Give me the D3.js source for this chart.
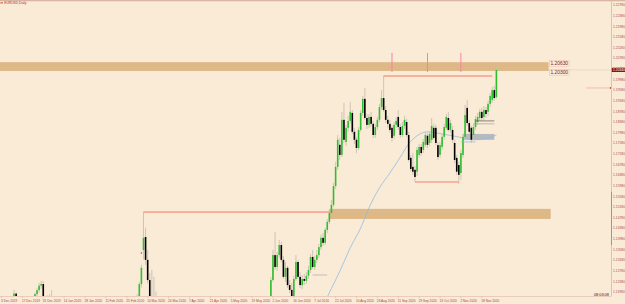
<!DOCTYPE html>
<html><head><meta charset="utf-8">
<script src="https://cdn.jsdelivr.net/npm/d3@7"></script>
<style>html,body{margin:0;padding:0;background:#faebd7;overflow:hidden}svg{display:block}</style>
</head><body><svg id="c" width="625" height="304"></svg>
<script>
// ---- DATA (EURUSD, Daily) ----
const opens = [
1.1078,1.1081,1.1078,1.1105,1.1060,1.1092,1.1130,1.1192,1.1150,1.1145,
1.1150,1.1112,1.1122,1.1080,1.1088,1.1090,1.1150,1.1190,1.1205,1.1222,
1.1228,1.1175,1.1160,1.1150,1.1180,1.1165,1.1130,1.1105,1.1120,1.1105,
1.1125,1.1130,1.1135,1.1105,1.1095,1.1085,1.1055,1.1025,1.1020,1.1018,
1.1005,1.1020,1.1030,1.1090,1.1060,1.1020,1.0995,1.0980,1.0975,1.0960,
1.0940,1.0918,1.0895,1.0875,1.0845,1.0840,1.0805,1.0790,1.0845,1.0850,
1.0880,1.0880,1.0990,1.1000,1.1095,1.1150,1.1183,1.1228,1.1356,1.1405,
1.1319,1.1243,1.1168,1.1110,1.1150,1.1000,1.0990,1.0900,1.0790,1.0705,
1.0720,1.0790,1.0880,1.0965,1.1140,1.1030,1.0965,1.0960,1.0855,1.0800,
1.0890,1.0890,1.0925,1.0895,1.0935,1.0915,1.0875,1.0835,1.0855,1.0860,
1.0825,1.0820,1.0870,1.0830,1.0870,1.0955,1.0980,1.0910,1.0840,1.0790,
1.0825,1.0805,1.0845,1.0815,1.0795,1.0805,1.0820,1.0810,1.0915,1.0975,
1.0950,1.0900,1.0895,1.0980,1.1000,1.1075,1.1135,1.1100,1.1120,1.1168,
1.1243,1.1337,1.1292,1.1337,1.1375,1.1319,1.1255,1.1289,1.1224,1.1206,
1.1179,1.1247,1.1311,1.1255,1.1224,1.1247,1.1240,1.1259,1.1281,1.1330,
1.1292,1.1319,1.1337,1.1367,1.1402,1.1383,1.1432,1.1462,1.1495,1.1526,
1.1597,1.1669,1.1752,1.1714,1.1846,1.1763,1.1816,1.1842,1.1872,1.1801,
1.1771,1.1740,1.1808,1.1872,1.1925,1.1853,1.1827,1.1857,1.1831,1.1789,
1.1819,1.1846,1.1894,1.1928,1.1883,1.1846,1.1831,1.1816,1.1786,1.1827,
1.1857,1.1819,1.1789,1.1823,1.1838,1.1789,1.1703,1.1669,1.1658,1.1651,
1.1714,1.1744,1.1733,1.1752,1.1786,1.1759,1.1771,1.1816,1.1816,1.1751,
1.1714,1.1744,1.1782,1.1816,1.1853,1.1808,1.1808,1.1759,1.1703,1.1676,
1.1646,1.1714,1.1782,1.1891,1.1834,1.1816,1.1789,1.1819,1.1838,1.1853,
1.1876,1.1857,1.1883,1.1876,1.1906,1.1921,1.1958,1.1932];
const highs = [
1.1092,1.1094,1.1110,1.1112,1.1095,1.1145,1.1206,1.1198,1.1165,1.1175,
1.1152,1.1130,1.1123,1.1093,1.1095,1.1155,1.1195,1.1212,1.1232,1.1240,
1.1239,1.1180,1.1185,1.1190,1.1205,1.1170,1.1140,1.1125,1.1135,1.1130,
1.1180,1.1150,1.1145,1.1110,1.1100,1.1095,1.1060,1.1035,1.1030,1.1030,
1.1025,1.1035,1.1095,1.1095,1.1063,1.1025,1.1000,1.0985,1.0990,1.0965,
1.0950,1.0925,1.0900,1.0880,1.0870,1.0850,1.0815,1.0850,1.0865,1.0885,
1.0890,1.0995,1.1025,1.1100,1.1140,1.1190,1.1236,1.1300,1.1499,1.1440,
1.1357,1.1270,1.1281,1.1255,1.1200,1.1055,1.1000,1.0915,1.0800,1.0750,
1.0890,1.0880,1.1000,1.1147,1.1165,1.1050,1.0990,1.0965,1.0865,1.0895,
1.0925,1.0955,1.0935,1.0945,1.0955,1.0930,1.0880,1.0880,1.0880,1.0900,
1.0850,1.0880,1.0890,1.0880,1.0975,1.1015,1.0985,1.0925,1.0845,1.0830,
1.0875,1.0850,1.0875,1.0830,1.0825,1.0830,1.0830,1.0925,1.0975,1.0995,
1.0955,1.0920,1.0990,1.1010,1.1090,1.1145,1.1150,1.1150,1.1180,1.1254,
1.1356,1.1424,1.1349,1.1394,1.1387,1.1334,1.1311,1.1296,1.1243,1.1232,
1.1259,1.1337,1.1319,1.1274,1.1262,1.1266,1.1274,1.1296,1.1341,1.1356,
1.1334,1.1356,1.1379,1.1413,1.1420,1.1439,1.1473,1.1507,1.1545,1.1609,
1.1688,1.1789,1.1778,1.1876,1.1910,1.1827,1.1861,1.1913,1.1883,1.1816,
1.1782,1.1819,1.1883,1.1936,1.1966,1.1868,1.1868,1.1876,1.1842,1.1831,
1.1857,1.1906,1.1958,1.2011,1.1898,1.1861,1.1846,1.1827,1.1838,1.1857,
1.1883,1.1831,1.1838,1.1861,1.1850,1.1801,1.1714,1.1721,1.1673,1.1744,
1.1755,1.1755,1.1774,1.1801,1.1797,1.1804,1.1853,1.1831,1.1827,1.1763,
1.1763,1.1793,1.1831,1.1868,1.1876,1.1846,1.1823,1.1771,1.1714,1.1688,
1.1733,1.1793,1.1902,1.1921,1.1846,1.1823,1.1831,1.1861,1.1872,1.1887,
1.1891,1.1898,1.1895,1.1917,1.1947,1.1970,1.1974,1.2045];
const lows = [
1.1067,1.1066,1.1075,1.1040,1.1057,1.1070,1.1120,1.1140,1.1118,1.1140,
1.1110,1.1105,1.1067,1.1070,1.1076,1.1085,1.1145,1.1180,1.1195,1.1210,
1.1165,1.1125,1.1135,1.1140,1.1160,1.1120,1.1095,1.1085,1.1100,1.1090,
1.1115,1.1120,1.1100,1.1085,1.1080,1.1050,1.1020,1.1005,1.1010,1.1000,
1.0995,1.1005,1.1025,1.1045,1.1015,1.0990,1.0965,1.0950,1.0950,1.0925,
1.0915,1.0890,1.0860,1.0840,1.0830,1.0800,1.0778,1.0780,1.0820,1.0835,
1.0850,1.0865,1.0960,1.0990,1.1060,1.1140,1.1170,1.1215,1.1320,1.1300,
1.1230,1.1100,1.1050,1.1050,1.0995,1.0920,1.0870,1.0760,1.0690,1.0636,
1.0700,1.0770,1.0860,1.0950,1.1010,1.0960,1.0900,1.0830,1.0780,1.0790,
1.0830,1.0860,1.0880,1.0875,1.0905,1.0860,1.0810,1.0830,1.0835,1.0820,
1.0790,1.0810,1.0820,1.0810,1.0860,1.0930,1.0900,1.0830,1.0780,1.0770,
1.0800,1.0795,1.0810,1.0775,1.0785,1.0775,1.0785,1.0795,1.0900,1.0945,
1.0885,1.0870,1.0875,1.0960,1.0990,1.1050,1.1070,1.1085,1.1105,1.1160,
1.1236,1.1281,1.1277,1.1326,1.1311,1.1247,1.1236,1.1213,1.1194,1.1164,
1.1172,1.1240,1.1247,1.1213,1.1209,1.1224,1.1228,1.1247,1.1270,1.1285,
1.1281,1.1307,1.1326,1.1356,1.1371,1.1375,1.1420,1.1454,1.1484,1.1518,
1.1586,1.1658,1.1695,1.1706,1.1759,1.1748,1.1801,1.1831,1.1793,1.1755,
1.1721,1.1733,1.1801,1.1861,1.1846,1.1812,1.1815,1.1819,1.1778,1.1778,
1.1808,1.1838,1.1883,1.1876,1.1834,1.1816,1.1797,1.1763,1.1774,1.1816,
1.1808,1.1778,1.1782,1.1812,1.1782,1.1688,1.1651,1.1639,1.1613,1.1635,
1.1703,1.1710,1.1721,1.1744,1.1740,1.1748,1.1759,1.1771,1.1751,1.1695,
1.1703,1.1733,1.1771,1.1808,1.1801,1.1797,1.1759,1.1684,1.1639,1.1605,
1.1621,1.1703,1.1771,1.1823,1.1789,1.1759,1.1778,1.1808,1.1827,1.1842,
1.1842,1.1846,1.1853,1.1861,1.1894,1.1910,1.1917,1.1925];
const closes = [
1.1081,1.1078,1.1105,1.1060,1.1092,1.1130,1.1192,1.1150,1.1145,1.1150,
1.1112,1.1122,1.1078,1.1088,1.1090,1.1150,1.1190,1.1205,1.1222,1.1228,
1.1175,1.1160,1.1150,1.1180,1.1165,1.1130,1.1105,1.1120,1.1105,1.1125,
1.1130,1.1135,1.1105,1.1095,1.1085,1.1055,1.1025,1.1020,1.1018,1.1005,
1.1020,1.1030,1.1090,1.1060,1.1020,1.0995,1.0980,1.0975,1.0960,1.0940,
1.0918,1.0895,1.0875,1.0845,1.0840,1.0805,1.0790,1.0845,1.0850,1.0880,
1.0880,1.0990,1.1000,1.1095,1.1135,1.1183,1.1228,1.1289,1.1402,1.1319,
1.1243,1.1168,1.1110,1.1150,1.1000,1.0990,1.0900,1.0790,1.0705,1.0720,
1.0790,1.0880,1.0965,1.1140,1.1030,1.0965,1.0960,1.0855,1.0800,1.0890,
1.0890,1.0925,1.0895,1.0935,1.0915,1.0875,1.0835,1.0855,1.0860,1.0825,
1.0820,1.0870,1.0830,1.0870,1.0955,1.0980,1.0910,1.0840,1.0790,1.0825,
1.0805,1.0845,1.0815,1.0795,1.0805,1.0820,1.0810,1.0915,1.0975,1.0950,
1.0900,1.0895,1.0980,1.1000,1.1075,1.1135,1.1100,1.1120,1.1170,1.1243,
1.1337,1.1292,1.1337,1.1375,1.1319,1.1255,1.1289,1.1224,1.1206,1.1179,
1.1247,1.1311,1.1255,1.1224,1.1247,1.1240,1.1259,1.1281,1.1330,1.1292,
1.1319,1.1337,1.1367,1.1402,1.1383,1.1432,1.1462,1.1495,1.1526,1.1597,
1.1669,1.1771,1.1714,1.1846,1.1771,1.1816,1.1842,1.1876,1.1801,1.1771,
1.1740,1.1808,1.1872,1.1925,1.1853,1.1827,1.1857,1.1831,1.1789,1.1819,
1.1846,1.1894,1.1928,1.1883,1.1846,1.1831,1.1808,1.1778,1.1827,1.1842,
1.1819,1.1789,1.1823,1.1846,1.1789,1.1695,1.1661,1.1651,1.1631,1.1733,
1.1744,1.1721,1.1763,1.1789,1.1752,1.1793,1.1823,1.1778,1.1759,1.1706,
1.1751,1.1782,1.1819,1.1857,1.1808,1.1834,1.1771,1.1695,1.1651,1.1639,
1.1721,1.1782,1.1864,1.1834,1.1801,1.1771,1.1819,1.1849,1.1857,1.1876,
1.1853,1.1883,1.1868,1.1906,1.1936,1.1958,1.1928,1.2034];

// date labels, one every 10 bars
const dateLabels = ["3 Dec 2019","17 Dec 2019","31 Dec 2019","14 Jan 2020","28 Jan 2020","11 Feb 2020",
"25 Feb 2020","10 Mar 2020","24 Mar 2020","7 Apr 2020","21 Apr 2020","5 May 2020","19 May 2020",
"2 Jun 2020","16 Jun 2020","7 Jul 2020","22 Jul 2020","10 Aug 2020","26 Aug 2020","11 Sep 2020",
"29 Sep 2020","13 Oct 2020","2 Nov 2020","18 Nov 2020"];
const priceTicks = [1.2278,1.2238,1.2198,1.2158,1.2118,1.2078,1.2038,1.1998,1.1958,1.1918,1.1878,
1.1838,1.1798,1.1758,1.1718,1.1678,1.1638,1.1598,1.1558,1.1518,1.1478,1.1438,1.1398,1.1358,
1.1318,1.1278,1.1238,1.1198];

// moving average
const maIdx = [146,151,156,160,164,167,172,176,181,186,191,195,199,204,208,211,216,221,226,231,235,237];
const maVal = [1.0990,1.1085,1.1179,1.1243,1.1311,1.1364,1.1439,1.1515,1.1590,1.1646,1.1706,1.1756,
1.1786,1.1801,1.1797,1.1793,1.1786,1.1778,1.1771,1.1774,1.1782,1.1789];

// zones (rectangles)
const zoneTop = [1.2063, 1.1511];
const zoneBottom = [1.2030, 1.1473];
const zoneFrom = [-1, 157];
const zoneTo = [262, 263];
const zoneLabels = ["1.20630", "1.20300"];

// horizontal levels
const levelPrice = [1.1499, 1.2011, 1.1612];
const levelFrom = [68, 183, 198];
const levelTo = [157, 235, 219];

// short marks
const vMarkIdx = [187, 204, 220];
const vMarkTop = 1.2098, vMarkBottom = 1.2026;
const greyZone = {from: 221, to: 236, top: 1.1793, bottom: 1.1771};
const shortPrice = [1.1842, 1.1831, 1.1763, 1.1262];
const shortFrom = [227, 226, 220, 149];
const shortTo = [236, 236, 227, 156];
const dotIdx = 67, dotPrice = 1.1345;
const alertPrice = 1.1966, alertFrom = 280;
const axisMarkRange = [1.1575, 1.1375];
const serverTime = "08:03:08";
const title = "EURUSD,Daily";

// ---- DRAW ----
const W = 625, H = 304, axisX = 611.5, plotBottom = 296;
const N = closes.length;
const x = d3.scaleLinear().domain([0, 237]).range([1.5, 496.4]);
const y = d3.scaleLinear().domain([1.11830, 1.22971]).range([plotBottom, 0]);
const svg = d3.select("#c");
svg.append("rect").attr("width", W).attr("height", H).attr("fill", "#faebd7");
svg.append("defs").append("clipPath").attr("id", "clip")
  .append("rect").attr("x", 0).attr("y", 1.3).attr("width", axisX).attr("height", plotBottom - 1.3);
const g = svg.append("g").attr("clip-path", "url(#clip)");

// bid line
g.append("line").attr("x1", 0).attr("x2", axisX).attr("y1", y(closes[N-1])).attr("y2", y(closes[N-1]))
  .attr("stroke", "#e3cfc4").attr("stroke-width", 0.6);

// zones
zoneTop.forEach((t, i) => {
  g.append("rect").attr("x", x(zoneFrom[i])).attr("width", x(zoneTo[i]) - x(zoneFrom[i]))
    .attr("y", y(t)).attr("height", y(zoneBottom[i]) - y(t)).attr("fill", "#deb887");
});
// grey zone
g.append("rect").attr("x", x(greyZone.from)).attr("width", x(greyZone.to) - x(greyZone.from))
  .attr("y", y(greyZone.top)).attr("height", y(greyZone.bottom) - y(greyZone.top)).attr("fill", "#b6b9bd");

// moving average
g.append("path").datum(maIdx.map((d, i) => [d, maVal[i]]))
  .attr("d", d3.line().x(d => x(d[0])).y(d => y(d[1])).curve(d3.curveMonotoneX))
  .attr("fill", "none").attr("stroke", "#92bbe6").attr("stroke-width", 0.8);

// candles
const idx = d3.range(N);
g.selectAll(".wick").data(idx).join("line")
  .attr("x1", i => x(i)).attr("x2", i => x(i)).attr("y1", i => y(highs[i])).attr("y2", i => y(lows[i]))
  .attr("stroke", "#c9c0b3").attr("stroke-width", 0.9);
g.selectAll(".body").data(idx).join("rect")
  .attr("x", i => x(i) - 0.8).attr("width", 1.6)
  .attr("y", i => y(Math.max(opens[i], closes[i])))
  .attr("height", i => Math.max(0.6, Math.abs(y(opens[i]) - y(closes[i]))))
  .attr("fill", i => closes[i] >= opens[i] ? "#2fbf2f" : "#000");

// levels
const levelColors = ["#f2584a", "#ee5a48", "#f5a394"];
const levelWidths = [0.8, 0.8, 1.6];
levelPrice.forEach((p, i) => {
  g.append("line").attr("x1", x(levelFrom[i])).attr("x2", x(levelTo[i])).attr("y1", y(p)).attr("y2", y(p))
    .attr("stroke", levelColors[i]).attr("stroke-width", levelWidths[i]);
});
// short lines
const shortColors = ["#555", "#a0a0a0", "#8ab8e6", "#a8a8a8"];
shortPrice.forEach((p, i) => {
  g.append("line").attr("x1", x(shortFrom[i])).attr("x2", x(shortTo[i])).attr("y1", y(p)).attr("y2", y(p))
    .attr("stroke", shortColors[i]).attr("stroke-width", 0.7);
});
// pink vertical marks
vMarkIdx.forEach(i => {
  g.append("line").attr("x1", x(i)).attr("x2", x(i)).attr("y1", y(vMarkTop)).attr("y2", y(vMarkBottom))
    .attr("stroke", "#ff7fa3").attr("stroke-width", 1);
});
// dot
g.append("rect").attr("x", x(dotIdx) - 0.6).attr("y", y(dotPrice) - 0.6).attr("width", 1.2).attr("height", 1.2).attr("fill", "#e02020");
// alert line
g.append("line").attr("x1", x(alertFrom)).attr("x2", axisX).attr("y1", y(alertPrice)).attr("y2", y(alertPrice))
  .attr("stroke", "#f29a9a").attr("stroke-width", 0.6);
g.append("rect").attr("x", axisX - 1.6).attr("y", y(alertPrice) - 0.8).attr("width", 1.6).attr("height", 1.6).attr("fill", "#e03030");

// zone labels
zoneLabels.forEach((t, i) => {
  const p = i === 0 ? zoneTop[0] : zoneBottom[0];
  svg.append("rect").attr("x", x(zoneTo[0]) + 1).attr("y", y(p) - 1.6).attr("width", 19.5).attr("height", 5.8)
    .attr("fill", "#faebd7").attr("stroke", "#e6b3a3").attr("stroke-width", 0.4);
  svg.append("text").attr("x", x(zoneTo[0]) + 1.8).attr("y", y(p) + 3.2).text(t)
    .attr("font-family", "Liberation Sans, Arial, sans-serif").attr("font-size", 4.9).attr("fill", "#7a2222");
});

// top band and title
svg.append("rect").attr("x", 0).attr("y", 0).attr("width", W).attr("height", 1.3).attr("fill", "#d9b6a3");
svg.append("line").attr("x1", 0.3).attr("x2", 3).attr("y1", 2.9).attr("y2", 2.9).attr("stroke", "#c81e1e").attr("stroke-width", 0.8);
svg.append("text").attr("x", 4.2).attr("y", 4.2).text(title)
  .attr("font-family", "Liberation Sans, Arial, sans-serif").attr("font-size", 3.3).attr("fill", "#b03030");

// right axis
svg.append("line").attr("x1", axisX).attr("x2", axisX).attr("y1", 1.3).attr("y2", plotBottom)
  .attr("stroke", "#e9bcae").attr("stroke-width", 1);
svg.append("line").attr("x1", axisX).attr("x2", axisX).attr("y1", y(axisMarkRange[0])).attr("y2", y(axisMarkRange[1]))
  .attr("stroke", "#cf8080").attr("stroke-width", 1);
svg.selectAll(".pt").data(priceTicks).join("text")
  .attr("x", axisX + 1.6).attr("y", d => y(d) + 1.2).text(d => d3.format(".5f")(d))
  .attr("font-family", "Liberation Sans, Arial, sans-serif").attr("font-size", 3.3).attr("fill", "#b04a4a");
// current price box
const last = closes[N - 1];
svg.append("rect").attr("x", axisX + 0.3).attr("y", y(last) - 2.1).attr("width", W - axisX).attr("height", 4.2).attr("fill", "#8e1414");
svg.append("text").attr("x", axisX + 1.6).attr("y", y(last) + 1.2).text(d3.format(".5f")(last))
  .attr("font-family", "Liberation Sans, Arial, sans-serif").attr("font-size", 3.3).attr("fill", "#fff");

// bottom axis
svg.append("line").attr("x1", 0).attr("x2", axisX).attr("y1", plotBottom + 0.5).attr("y2", plotBottom + 0.5)
  .attr("stroke", "#e7c3b3").attr("stroke-width", 0.8);
dateLabels.forEach((t, k) => {
  const xi = x(k * 10);
  svg.append("line").attr("x1", xi).attr("x2", xi).attr("y1", plotBottom + 0.5).attr("y2", plotBottom + 2.3)
    .attr("stroke", "#d29a9a").attr("stroke-width", 0.4);
  svg.append("text").attr("x", xi - 0.5).attr("y", 301.6).text(t)
    .attr("font-family", "Liberation Sans, Arial, sans-serif").attr("font-size", 3.2).attr("fill", "#a84646");
});
// server time
svg.append("text").attr("x", 594).attr("y", 296.3).text(serverTime)
  .attr("font-family", "Liberation Sans, Arial, sans-serif").attr("font-size", 3.8).attr("fill", "#222");
</script>
</body></html>
